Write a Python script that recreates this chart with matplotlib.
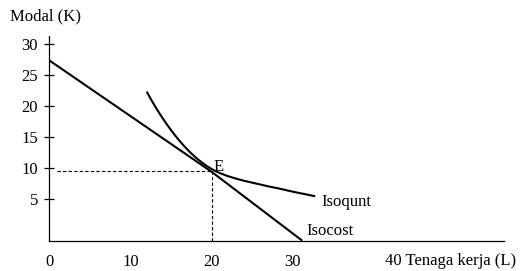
import matplotlib
matplotlib.use("Agg")
import matplotlib.pyplot as plt

# data
isocost_x = [0, 20, 31.2]
isocost_y = [27.3, 9.4, -1.7]

isoquant_x = [12.0, 12.5, 13.0, 13.5, 14.0, 14.5, 15.0, 15.5, 16.0, 16.5, 17.0, 17.5,
              18.0, 18.5, 19.0, 19.5, 20.0, 20.5, 21.0, 22.0, 23.0, 24.0, 25.5, 27.0,
              28.5, 30.0, 31.5, 32.8]
isoquant_y = [22.3, 21.1, 20.0, 18.95, 17.95, 17.0, 16.1, 15.25, 14.45, 13.7, 13.0, 12.35,
              11.75, 11.2, 10.7, 10.25, 9.85, 9.5, 9.2, 8.7, 8.3, 7.95, 7.5, 7.05,
              6.65, 6.2, 5.8, 5.45]

e_point = (20, 9.57)
y_ticks = [5, 10, 15, 20, 25, 30]
x_ticks = [0, 10, 20, 30]

plt.rcParams['font.family'] = ['Liberation Serif', 'DejaVu Serif']
plt.rcParams['font.size'] = 12

fig = plt.figure(figsize=(5.26, 2.71), dpi=100)
ax = fig.add_axes([0.0941, 0.1118, 0.8641, 0.7554])
ax.set_xlim(0, 56.1)
ax.set_ylim(-1.7, 31.25)

for s in ['top', 'right']:
    ax.spines[s].set_visible(False)
for s in ['left', 'bottom']:
    ax.spines[s].set_linewidth(0.9)

ax.set_yticks(y_ticks)
ax.set_yticklabels([str(v) for v in y_ticks])
ax.tick_params(axis='y', direction='inout', length=7.9, width=0.9, pad=4.2)
ax.set_xticks(x_ticks)
ax.set_xticklabels([str(v) for v in x_ticks])
ax.tick_params(axis='x', length=0, pad=9.8)

# isocost line and isoquant curve
ax.plot(isocost_x, isocost_y, color='black', lw=1.5, clip_on=False,
        solid_capstyle='butt', solid_joinstyle='round')
ax.plot(isoquant_x, isoquant_y, color='black', lw=1.5, clip_on=False,
        solid_capstyle='butt', solid_joinstyle='round')

# dashed guides to E
ax.plot([0.9, e_point[0]], [e_point[1], e_point[1]], color='black', lw=0.8, ls=(0, (3, 2)))
ax.plot([e_point[0], e_point[0]], [e_point[1], -1.7], color='black', lw=0.8, ls=(0, (3, 2)))

ax.text(20.2, 9.57, 'E', ha='left', va='baseline')
ax.text(33.5, 3.93, 'Isoqunt', ha='left', va='baseline')
ax.text(31.75, -0.8, 'Isocost', ha='left', va='baseline')
ax.text(41.4, -5.6, '40 Tenaga kerja (L)', ha='left', va='baseline', clip_on=False)
ax.text(-4.88, 33.7, 'Modal (K)', ha='left', va='baseline', clip_on=False)

fig.savefig('out.png', dpi=100)
